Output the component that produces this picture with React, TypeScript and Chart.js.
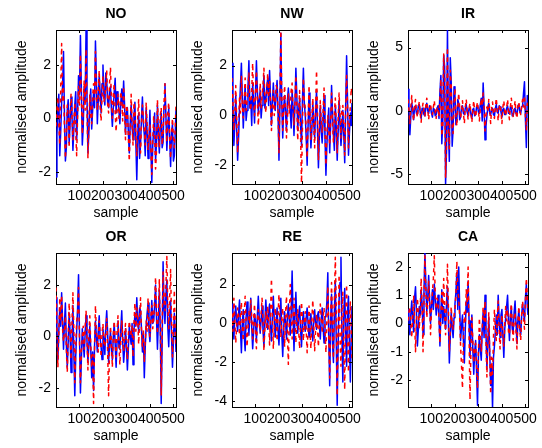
import React, { useEffect, useRef } from "react";
import { Chart, registerables } from "chart.js";

Chart.register(...registerables);

// sample index of each plotted point (shared by all panels)
const SAMPLES = [
  1, 5, 9, 13, 17, 21, 25, 29, 33, 37, 41, 45, 49, 53, 57, 61,
  65, 69, 73, 77, 81, 85, 89, 93, 97, 101, 105, 109, 113, 117, 121, 125,
  129, 133, 137, 141, 145, 149, 153, 157, 161, 165, 169, 173, 177, 181, 185, 189,
  193, 197, 201, 205, 209, 213, 217, 221, 225, 229, 233, 237, 241, 245, 249, 253,
  257, 261, 265, 269, 273, 277, 281, 285, 289, 293, 297, 301, 305, 309, 313, 317,
  321, 325, 329, 333, 337, 341, 345, 349, 353, 357, 361, 365, 369, 373, 377, 381,
  385, 389, 393, 397, 401, 405, 409, 413, 417, 421, 425, 429, 433, 437, 441, 445,
  449, 453, 457, 461, 465, 469, 473, 477, 481, 485, 489, 493, 497, 501, 505, 509,
  512,
];
const X_TICKS = [100, 200, 300, 400, 500];

const TITLES = ["NO", "NW", "IR", "OR", "RE", "CA"];

// blue (solid) series
const NO_BLUE = [
  -2.2, -0.6, 0.4, 0.9, -1.4, -0.5, 0.6, 1.2, 2.5, 0.1, -1.6, -1.1, 0.3, 0.7, -0.9, -0.2,
  0.8, 0.1, -1.2, -0.4, 0.5, 1.0, -0.8, 0.2, 1.6, 0.9, 3.1, 1.1, -1.0, -0.3, 1.2, 0.6,
  3.3, 0.8, -1.3, -0.5, 0.6, 1.1, -0.4, 0.3, 1.0, 0.4, 2.9, 1.5, -0.2, 0.7, 1.6, 0.9,
  0.2, 1.3, 2.0, 0.9, 0.5, 1.7, 1.4, 0.6, 0.4, 1.0, 1.2, 0.3, -0.3, 0.4, 1.0, 1.5,
  0.2, 1.0, 0.8, 0.3, -0.2, 0.6, 1.1, 0.4, 1.4, 0.5, -0.6, 0.2, 0.4, -0.5, -1.3, -0.2,
  0.5, -0.3, -0.8, 0.1, 0.6, -0.9, -2.3, -0.7, 0.2, -1.5, -1.0, 0.0, 0.8, -0.2, -0.6, -1.4,
  0.4, -0.5, -1.5, -0.8, 0.3, -1.1, -2.4, -1.0, -0.4, 0.2, -1.6, -0.9, 0.5, -0.6, -1.3, -0.3,
  0.2, -1.1, -0.9, 0.5, 1.3, 0.1, -1.2, -0.4, 0.4, -0.7, -1.8, -0.6, -0.2, -1.6, -1.4, -0.5,
  0.3,
];
// red (dashed) series
const NO_RED = [
  -0.3, 0.3, 0.8, -0.2, -1.0, 1.1, 2.8, 0.6, 1.2, -0.4, -1.5, -0.6, 0.5, 0.0, -1.1, 0.2,
  0.9, 0.2, -0.8, -0.1, 0.6, -0.5, -1.4, 0.1, 1.2, 0.5, 2.4, 0.8, -0.6, 0.5, 1.4, 0.3,
  2.6, 0.4, -1.5, -0.3, 0.9, 0.1, -0.2, 0.8, 1.3, 0.7, 2.5, 0.9, 0.3, 1.1, 1.8, 0.4,
  -0.1, 0.8, 1.6, 0.6, 0.8, 1.2, 1.8, 0.5, 0.2, 1.3, 1.9, 0.7, 0.0, 0.9, 1.3, 0.2,
  -0.5, 0.3, 0.9, 0.0, 0.4, 1.0, 0.7, -0.1, 1.2, 0.2, -0.8, 0.5, 0.3, -0.7, -1.6, -0.4,
  0.9, -0.2, -1.0, 0.6, 0.3, -0.6, -1.4, 0.1, 0.7, -0.5, -1.3, -0.2, 0.5, 0.0, -0.4, -1.0,
  0.6, -0.3, -1.2, -0.6, -0.2, -1.3, -2.1, -0.8, 0.1, -0.7, -1.9, -1.2, 0.7, -0.4, -1.1, 0.1,
  0.4, -1.0, -0.6, 0.6, 1.3, -0.1, -0.9, 0.2, 0.6, -0.8, -1.5, -0.5, 0.0, -0.7, -1.1, -0.3,
  0.5,
];

const NW_BLUE = [
  2.1, 0.4, -1.2, -0.3, 0.8, -0.6, -1.8, -0.9, 0.3, 1.2, 2.1, 0.7, -0.5, 0.4, 1.2, -0.2,
  0.2, 1.1, 2.2, 0.3, 0.6, -0.4, 1.3, 0.5, -0.3, 0.9, 2.2, 1.0, 0.1, 0.6, 1.0, -0.1,
  0.4, 0.9, 1.6, 0.3, 0.6, 1.1, 1.5, 0.4, 1.8, 0.7, -0.4, 0.5, 1.3, 0.6, 0.2, 0.9,
  1.4, 0.1, -1.8, 0.4, 3.3, 0.5, -0.9, 0.3, 0.8, 0.1, -0.6, 0.6, 1.1, 0.5, 0.2, -0.5,
  1.0, 0.3, -0.8, 0.4, 1.9, 0.8, -0.6, 0.2, 0.7, -0.4, -1.2, 0.6, 1.9, 0.5, 0.0, -0.9,
  -2.0, -0.4, 0.9, -0.2, -1.3, -0.6, 0.5, -0.3, -0.9, 0.2, 1.0, -0.5, -2.1, -0.8, 0.4, -0.6,
  -1.1, -0.2, 0.8, -0.9, -2.4, -1.2, -0.3, 0.3, -1.5, -0.4, 1.2, 0.1, -0.8, -1.4, 0.4, -0.5,
  -1.8, -0.7, 0.6, -0.3, -1.2, -0.6, 0.2, -0.8, -1.9, 0.3, 2.4, 0.6, -1.6, -0.7, 0.1, -0.4,
  0.5,
];
const NW_RED = [
  1.5, 0.5, -0.6, 0.2, 1.2, -0.2, -1.5, -0.4, 0.7, 0.1, 1.6, 0.3, -0.1, 0.6, 1.5, 0.2,
  0.6, 0.9, 1.7, 0.5, 0.2, 1.0, 2.1, 0.7, 0.0, 0.8, 1.8, 0.6, -0.4, 0.4, 1.3, 0.3,
  0.8, 1.2, 1.9, 0.6, 0.1, 0.9, 1.7, 0.7, 1.4, 0.4, -0.6, 0.3, 1.0, 0.0, 0.5, 1.2,
  1.1, 0.2, -1.5, 0.6, 3.4, 0.8, -0.6, 0.4, 1.2, 0.3, -0.9, -0.2, 0.9, 0.1, 0.5, 1.0,
  1.3, 0.2, -0.4, 0.5, 1.6, 0.4, -1.0, 0.1, 1.0, -0.8, -2.7, -0.5, 1.5, 0.6, 0.3, -0.6,
  -1.7, -0.3, 1.2, 0.1, -1.0, -0.2, 0.7, -0.4, -1.3, 0.3, 1.8, 0.2, -1.8, -0.6, 0.6, -0.2,
  -0.7, 0.2, 1.1, -0.5, -2.0, -0.8, 0.0, -0.6, -1.2, -0.1, 0.9, -0.3, -1.1, 0.1, 0.7, -0.4,
  -1.5, -0.2, 0.9, 0.0, -0.9, 0.3, 0.4, -0.5, -1.6, 0.2, 1.6, 0.4, -1.3, -0.3, 0.4, 1.1,
  0.8,
];

const IR_BLUE = [
  1.7, 0.2, -1.9, -0.4, 0.6, 0.1, -0.7, 0.3, 0.4, -0.2, -0.3, 0.4, 0.5, -0.1, -0.6, 0.2,
  0.2, -0.3, -0.4, 0.3, 0.6, 0.0, -0.2, 0.4, 0.3, -0.2, -0.5, 0.2, 0.1, -0.4, -0.3, 0.2,
  0.4, -0.6, 1.5, 2.8, -2.6, -1.0, 4.4, 3.5, -5.8, -3.2, 6.4, -1.5, -4.0, 4.2, 2.3, -2.8,
  -1.5, 1.9, 1.2, -1.1, -0.8, 0.9, 0.6, -0.7, -0.5, 0.3, 0.4, -0.2, -0.3, 0.2, 0.5, -0.1,
  -0.4, 0.2, 0.3, -0.3, -0.6, 0.1, 0.2, -0.4, -0.3, 0.3, 0.4, -0.1, -0.2, 0.5, 1.0, -0.8,
  2.2, 0.3, -2.3, -1.2, -0.4, 0.3, 0.6, -0.2, -0.3, 0.1, 0.2, -0.3, -0.4, 0.2, 0.5, -0.1,
  -0.2, 0.4, 0.3, -0.1, -0.5, 0.1, 0.2, -0.3, -0.3, 0.2, 0.4, -0.2, -0.2, 0.3, 0.3, -0.4,
  -0.4, 0.1, 0.2, -0.2, -0.3, 0.4, 0.5, -0.1, -0.2, 0.3, 0.4, 1.4, 2.3, -0.6, -2.9, 1.2,
  0.5,
];
const IR_RED = [
  0.9, 0.1, -1.0, 0.3, 1.2, -0.2, -0.8, 0.4, 0.9, 0.0, -0.5, 0.3, 0.7, -0.2, -0.9, 0.1,
  0.6, -0.1, -0.4, 0.4, 1.0, 0.1, -0.7, 0.2, 0.5, -0.1, -0.3, 0.3, 0.8, 0.0, -0.6, 0.2,
  0.3, -0.5, 1.0, 2.5, -2.0, -1.2, 4.5, 2.8, -5.3, -2.5, 5.0, -0.8, -3.0, 3.2, 2.0, -1.2,
  -1.8, 0.5, 1.8, -0.3, -1.2, 0.4, 1.4, 0.2, -0.6, 0.1, 0.8, -0.2, -1.0, 0.3, 0.9, 0.0,
  -0.7, 0.2, 0.6, -0.2, -0.9, 0.1, 0.8, -0.1, -0.5, 0.3, 0.7, 0.0, -0.8, 0.2, 1.0, 0.4,
  1.4, 0.2, -1.6, -0.3, 0.3, -0.1, 0.9, 0.1, -1.0, 0.2, 0.7, -0.2, -0.6, 0.3, 1.0, 0.1,
  -0.8, 0.2, 0.5, -0.1, -1.0, 0.3, 0.8, 0.0, -0.4, 0.2, 0.9, -0.1, -0.7, 0.3, 1.0, 0.2,
  -0.5, 0.1, 0.8, -0.2, -0.6, 0.3, 0.7, 0.0, -0.3, 0.4, 0.9, 0.3, 1.2, -0.4, -1.5, 0.6,
  0.4,
];

const OR_BLUE = [
  1.5, 0.3, -0.9, 0.2, 1.1, 0.4, 1.7, 0.6, -0.5, 0.5, 1.3, -0.3, -1.2, -0.2, 0.9, 0.1,
  -1.4, -0.3, 1.2, -0.6, -2.3, -0.8, 0.2, 1.1, 2.4, 0.1, -2.2, -0.9, 0.3, -0.2, -0.8, 0.1,
  0.8, -0.2, -1.0, -0.3, 0.4, -0.5, -1.6, -0.6, -2.1, -0.4, 0.6, 0.0, -0.6, 0.2, 0.8, -0.1,
  -0.4, -0.9, 0.3, -0.1, -0.7, 0.4, 1.0, 0.1, -1.0, -0.3, 0.2, -0.5, -0.9, 0.0, 0.5, -0.3,
  -1.2, -0.2, 0.6, -0.4, -0.5, 0.3, 1.0, -0.2, -1.0, -0.5, 0.3, -0.4, -1.3, -0.5, 0.4, 0.0,
  -0.3, 0.5, -1.1, 0.2, 0.9, 0.4, 1.5, 0.6, 0.2, 1.1, 1.0, 0.3, -0.6, 0.1, -1.6, -0.4,
  0.4, 0.9, 1.3, 0.2, -0.2, 0.6, 1.4, 0.5, 0.6, 1.2, 2.0, 0.7, -0.5, 0.6, 1.8, 0.3,
  -2.6, -0.3, 2.9, 1.1, 0.5, 1.6, 2.2, 0.4, -0.4, 0.7, 1.4, 0.0, -1.2, -0.2, 0.9, 0.2,
  -0.6,
];
const OR_RED = [
  1.9, 0.4, -1.2, 0.1, 1.5, 0.6, 1.6, 0.3, -0.2, 0.2, 0.8, -0.5, -1.4, 0.0, 1.3, 0.2,
  -0.9, 0.5, 1.7, 0.2, -1.8, -0.4, 0.6, 0.9, 1.9, -0.2, -1.8, -0.6, 0.0, 0.4, -0.5, 0.3,
  1.0, -0.1, -1.3, 0.1, 0.8, -0.3, -1.2, -0.7, -2.6, -0.5, 1.2, 0.2, -0.2, -0.6, 0.6, 0.0,
  -0.8, 0.1, 0.5, -0.3, -0.4, 0.2, 0.7, -0.6, -2.3, -0.4, 0.4, -0.2, -1.2, 0.1, 0.6, -0.2,
  -0.8, 0.2, 0.8, -0.3, -1.1, -0.2, 0.6, 0.0, -0.6, 0.1, 0.5, -0.4, -0.9, 0.0, 0.6, 0.3,
  0.0, 0.4, -0.8, 0.5, 1.3, 0.2, 1.1, 0.7, -0.3, 0.6, 1.5, 0.2, -0.4, 0.3, -1.0, -0.2,
  0.6, 0.2, 1.5, 0.5, 0.0, 0.8, 1.2, 0.3, 0.8, 1.4, 2.3, 0.9, 0.1, 1.0, 2.2, 0.5,
  -2.3, 0.4, 2.5, 1.4, 1.0, 2.0, 3.1, 1.2, 0.3, 1.5, 2.6, 0.6, -0.8, 0.4, 1.8, 0.2,
  -0.3,
];

const RE_BLUE = [
  1.0, 0.2, -0.8, 0.4, 0.9, 0.1, -0.4, 0.5, 1.2, -0.3, -1.5, 0.0, 0.7, -0.6, -1.4, 0.3,
  1.1, 0.2, -0.6, 0.5, 1.3, -0.2, -1.3, -0.4, 0.5, 0.1, -0.9, 0.4, 1.4, 0.3, -0.5, 0.2,
  0.9, -0.3, -1.2, 0.1, 1.2, 0.4, -0.3, 0.6, 1.0, -0.2, -0.9, 0.3, 1.4, 0.2, -0.7, 0.0,
  0.8, -0.4, -1.1, 0.2, 1.3, -0.5, -1.7, -0.3, 0.6, 0.1, -0.8, 0.3, 1.0, 0.2, -0.6, 0.5,
  2.7, 0.4, -1.4, 0.3, 1.6, 0.2, -0.5, 0.4, 0.9, -0.3, -1.2, 0.1, 0.6, -0.1, -0.4, 0.3,
  0.8, 0.0, -0.7, 0.2, 0.5, -0.2, -0.9, 0.1, 0.7, 0.0, -0.3, 0.4, 0.6, -0.1, -0.8, 0.2,
  0.8, -0.2, -1.0, 0.3, 0.4, 1.1, 2.6, -0.8, -3.2, 0.2, 1.5, -1.0, -2.0, 0.6, 2.2, -0.9,
  -4.2, -1.1, 1.2, 2.1, 3.4, -0.6, -3.0, 0.4, 1.8, -0.5, -2.2, 0.7, 1.4, -1.1, -3.0, -0.5,
  0.9,
];
const RE_RED = [
  0.5, -0.4, 1.3, 0.2, -1.0, -0.1, 0.8, 0.3, -0.6, 0.4, 1.1, -0.2, -0.9, 0.5, 1.4, 0.1,
  -1.2, -0.3, 0.6, 0.0, 1.2, 0.3, -0.8, 0.2, 1.0, -0.4, -1.3, 0.1, 0.7, 0.0, -0.4, 0.5,
  1.3, 0.2, -1.4, -0.2, 0.6, -0.3, 0.9, 0.1, -1.1, 0.6, 2.3, 0.4, -1.3, -0.1, 0.8, 0.2,
  -0.9, 0.4, 1.5, 0.1, -0.7, 0.3, 0.8, -0.2, -1.2, 0.5, 1.4, -0.5, -2.1, 0.3, 2.0, 0.6,
  -0.8, 0.2, 1.3, 0.1, -1.0, 0.2, 0.7, -0.4, -1.3, 0.0, 1.1, 0.2, -0.9, 0.1, 0.6, -0.3,
  -1.5, -0.2, 0.9, -0.3, -1.3, 0.2, 1.2, 0.0, -1.4, -0.3, 0.5, -0.2, -1.2, 0.1, 1.0, 0.3,
  -0.5, 0.3, 0.8, -0.4, -1.5, 0.2, 1.9, -0.6, -2.8, 0.5, 2.1, -0.3, -1.8, 1.2, 3.4, 0.8,
  -3.7, -0.4, 2.5, -0.8, -2.2, 0.6, 1.6, -1.2, -3.4, 0.3, 2.0, -0.6, -2.5, 0.2, 1.1, -0.6,
  -1.8,
];

const CA_BLUE = [
  0.5, 0.1, -0.4, 0.3, 0.8, 0.2, -0.3, 0.9, 1.3, 0.4, -0.8, -0.2, 0.6, 0.3, 1.2, 0.7,
  -0.4, 1.1, 2.5, 1.4, 0.4, 0.9, 1.7, 0.8, 0.0, 0.6, 1.2, 0.5, 1.4, 0.9, 0.3, 0.6,
  1.0, 0.2, -0.8, 0.4, 1.2, 0.0, 0.6, 0.2, -0.2, 0.7, 1.3, 0.1, -1.4, -0.5, 0.4, -0.1,
  -0.5, 0.2, 0.7, 1.1, 1.8, 0.5, 2.0, 0.6, -0.6, -0.1, 0.3, -0.6, -1.4, -0.2, 0.8, 0.4,
  1.5, 0.1, -1.2, -0.3, 0.3, -0.9, -1.8, -1.0, -0.6, -1.7, -2.9, -1.1, -0.4, -0.9, -1.3, -0.2,
  0.4, -0.5, 1.0, -0.3, -1.6, -0.7, 0.2, -1.0, -2.2, -1.5, -3.0, -1.2, -0.8, -0.3, 0.3, -0.4,
  1.0, 0.2, -0.5, 0.3, 0.5, -0.4, -1.2, -0.2, 0.2, 0.6, 1.0, 0.1, -0.6, 0.2, 0.6, -0.2,
  -0.3, 0.4, 0.8, 0.0, -0.7, 0.1, 0.5, -0.2, -0.4, 0.3, 0.7, 0.4, 0.1, 0.9, 1.4, 0.6,
  0.3,
];
const CA_RED = [
  0.1, 0.4, 0.6, 0.0, -0.5, 0.3, 1.0, 0.2, -1.0, 0.1, 0.9, 0.4, -0.2, 0.5, 1.6, 0.6,
  -1.0, 0.8, 2.4, 1.2, 0.2, 0.7, 1.5, 0.9, -0.4, 0.5, 1.1, 1.6, 2.4, 1.0, 0.5, 0.9,
  0.8, 0.1, -0.7, 0.3, 1.1, 0.5, 1.6, 0.4, -0.4, 0.8, 2.1, 0.6, -1.0, -0.3, 0.6, 0.0,
  -0.2, 0.3, 0.5, 1.0, 2.2, 1.2, 0.9, 0.2, -0.8, -1.5, -2.3, -0.6, 0.4, 0.0, 1.2, 0.7,
  2.0, -0.4, -2.7, -0.9, 0.2, -0.6, -1.4, -0.8, -0.7, -1.5, -2.3, -1.0, 0.2, -0.5, -1.0, -0.2,
  0.6, 0.1, 0.8, -0.6, -1.9, -0.5, 0.4, -1.1, -2.5, -1.2, -1.8, -0.5, 0.5, -0.2, -0.6, 0.2,
  0.8, -0.2, -0.9, -0.1, 0.3, -0.4, -0.8, 0.0, 0.6, 0.1, 0.5, -0.3, -0.4, 0.3, 0.7, -0.1,
  -0.6, 0.2, 0.4, -0.3, -0.9, 0.1, 0.6, -0.2, -0.6, 0.3, 0.8, 0.2, -0.2, 0.8, 1.6, 0.9,
  0.5,
];

// axis limits and y tick labels
const Y_MIN = [-2.46, -2.75, -5.79, -2.74, -4.29, -2.96];
const Y_MAX = [3.31, 3.43, 6.39, 3.24, 3.62, 2.5];
const Y_TICKS_A = [-2, 0, 2];
const Y_TICKS_IR = [-5, 0, 5];
const Y_TICKS_RE = [-4, -2, 0, 2];
const Y_TICKS_CA = [-2, -1, 0, 1, 2];
const Y_TICKS = [Y_TICKS_A, Y_TICKS_A, Y_TICKS_IR, Y_TICKS_A, Y_TICKS_RE, Y_TICKS_CA];
const BLUES = [NO_BLUE, NW_BLUE, IR_BLUE, OR_BLUE, RE_BLUE, CA_BLUE];
const REDS = [NO_RED, NW_RED, IR_RED, OR_RED, RE_RED, CA_RED];

// layout
const LEFT_W = 56;
const RIGHT_W = 56;
const TOP_H = 30;
const BOTTOM_H = 42;
const AREA_W = 120;
const AREA_H = 154;
const CANVAS_W = LEFT_W + AREA_W + RIGHT_W;
const CANVAS_H = TOP_H + AREA_H + BOTTOM_H;
const COL_LEFT = [0, 176, 352];
const ROW_TOP = [0, 223];

const FAMILY = "'Liberation Sans', Arial, Helvetica, sans-serif";

function Panel({ idx }: { idx: number }) {
  const ref = useRef<HTMLCanvasElement>(null);
  useEffect(() => {
    if (!ref.current) return;
    const yTicks = Y_TICKS[idx];
    const tickMarks = {
      id: "innerTicks",
      afterDraw(chart: any) {
        const { ctx, chartArea: a, scales } = chart;
        ctx.save();
        ctx.strokeStyle = "#000";
        ctx.lineWidth = 1;
        ctx.beginPath();
        X_TICKS.forEach((v) => {
          const x = Math.round(scales.x.getPixelForValue(v)) + 0.5;
          ctx.moveTo(x, a.bottom);
          ctx.lineTo(x, a.bottom - 3);
          ctx.moveTo(x, a.top);
          ctx.lineTo(x, a.top + 3);
        });
        yTicks.forEach((v) => {
          const y = Math.round(scales.y.getPixelForValue(v)) + 0.5;
          ctx.moveTo(a.left, y);
          ctx.lineTo(a.left + 3, y);
          ctx.moveTo(a.right, y);
          ctx.lineTo(a.right - 3, y);
        });
        ctx.stroke();
        ctx.restore();
      },
    };
    const border = { display: true, color: "#000", width: 1 };
    const noGrid = { display: false, drawTicks: false, tickLength: 0 };
    const chart = new Chart(ref.current, {
      type: "line",
      data: {
        datasets: [
          {
            label: "red",
            data: SAMPLES.map((x, i) => ({ x, y: REDS[idx][i] })),
            borderColor: "#ff0000",
            borderWidth: 1.5,
            borderDash: [4, 4],
            borderJoinStyle: "round",
            pointRadius: 0,
            xAxisID: "x",
            yAxisID: "y",
            order: 0,
          },
          {
            label: "blue",
            data: SAMPLES.map((x, i) => ({ x, y: BLUES[idx][i] })),
            borderColor: "#0000ff",
            borderWidth: 1.5,
            borderJoinStyle: "round",
            pointRadius: 0,
            xAxisID: "x",
            yAxisID: "y",
            order: 1,
          },
        ],
      },
      options: {
        animation: false,
        responsive: false,
        events: [],
        layout: { padding: 0 },
        plugins: { legend: { display: false }, tooltip: { enabled: false }, title: { display: false } },
        scales: {
          x: {
            type: "linear",
            position: "bottom",
            min: 1,
            max: 512,
            afterBuildTicks: (s: any) => {
              s.ticks = X_TICKS.map((v) => ({ value: v }));
            },
            afterFit: (s: any) => {
              s.height = BOTTOM_H;
            },
            grid: noGrid,
            border,
            ticks: {
              autoSkip: false,
              maxRotation: 0,
              minRotation: 0,
              padding: 3.5,
              color: "#000",
              font: { family: FAMILY, size: 14 },
            },
            title: {
              display: true,
              text: "sample",
              color: "#000",
              font: { family: FAMILY, size: 14 },
              padding: { top: 0, bottom: 4.4 },
            },
          },
          xTop: {
            type: "linear",
            position: "top",
            min: 1,
            max: 512,
            afterFit: (s: any) => {
              s.height = TOP_H;
            },
            grid: noGrid,
            border,
            ticks: { display: false },
            title: {
              display: true,
              text: TITLES[idx],
              color: "#000",
              font: { family: FAMILY, size: 14, weight: "bold" },
              padding: { top: 5.5, bottom: 0 },
            },
          },
          y: {
            type: "linear",
            position: "left",
            min: Y_MIN[idx],
            max: Y_MAX[idx],
            afterBuildTicks: (s: any) => {
              s.ticks = yTicks.map((v) => ({ value: v }));
            },
            afterFit: (s: any) => {
              s.width = LEFT_W;
            },
            grid: noGrid,
            border,
            ticks: { padding: 5, color: "#000", font: { family: FAMILY, size: 14 } },
            title: {
              display: true,
              text: "normalised amplitude",
              color: "#000",
              font: { family: FAMILY, size: 14 },
              padding: { top: 13.5, bottom: 0 },
            },
          },
          yR: {
            type: "linear",
            position: "right",
            min: Y_MIN[idx],
            max: Y_MAX[idx],
            afterFit: (s: any) => {
              s.width = RIGHT_W;
            },
            grid: noGrid,
            border,
            ticks: { display: false },
          },
        },
      },
      plugins: [tickMarks],
    } as any);
    return () => chart.destroy();
  }, [idx]);
  const col = idx % 3;
  const row = Math.floor(idx / 3);
  return (
    <canvas
      ref={ref}
      width={CANVAS_W}
      height={CANVAS_H}
      style={{
        position: "absolute",
        left: COL_LEFT[col],
        top: ROW_TOP[row],
        width: CANVAS_W,
        height: CANVAS_H,
      }}
    />
  );
}

export default function App() {
  return (
    <div
      style={{
        position: "fixed",
        left: 0,
        top: 0,
        width: 542,
        height: 448,
        overflow: "hidden",
        background: "#fff",
      }}
    >
      {TITLES.map((t, i) => (
        <Panel key={t} idx={i} />
      ))}
    </div>
  );
}
